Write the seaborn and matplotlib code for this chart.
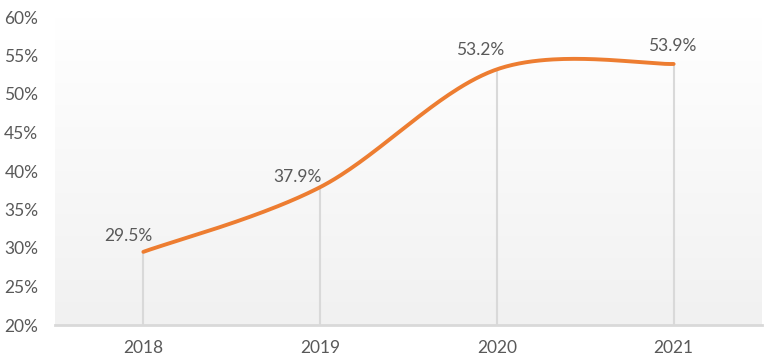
import numpy as np
import pandas as pd
import seaborn as sns
import matplotlib.pyplot as plt

years = ["2018", "2019", "2020", "2021"]
rates = [29.5, 37.9, 53.2, 53.9]
labels = ["29.5%", "37.9%", "53.2%", "53.9%"]
y_ticks = [20, 25, 30, 35, 40, 45, 50, 55, 60]


# Excel-style smoothed line (Catmull-Rom bezier between the data points)
def smooth_curve(xs, ys, n=60):
    xs = np.asarray(xs, float)
    ys = np.asarray(ys, float)
    px = np.concatenate([[xs[0]], xs, [xs[-1]]])
    py = np.concatenate([[ys[0]], ys, [ys[-1]]])
    out_x, out_y = [], []
    for i in range(1, len(px) - 2):
        p0 = np.array([px[i], py[i]])
        p3 = np.array([px[i + 1], py[i + 1]])
        c1 = p0 + (np.array([px[i + 1], py[i + 1]]) - np.array([px[i - 1], py[i - 1]])) / 6
        c2 = p3 - (np.array([px[i + 2], py[i + 2]]) - np.array([px[i], py[i]])) / 6
        t = np.linspace(0, 1, n)[:, None]
        pts = (1 - t) ** 3 * p0 + 3 * (1 - t) ** 2 * t * c1 + 3 * (1 - t) * t ** 2 * c2 + t ** 3 * p3
        out_x.extend(pts[:, 0])
        out_y.extend(pts[:, 1])
    return np.array(out_x), np.array(out_y)


sns.set_style("white")
plt.rcParams["font.family"] = ["Lato", "DejaVu Sans"]

fig = plt.figure(figsize=(7.81, 3.61), dpi=100)
ax = fig.add_axes([55 / 781, 36 / 361, 707 / 781, 308 / 361])

xpos = np.arange(len(years))
ax.set_xlim(-0.5, len(years) - 0.5)
ax.set_ylim(20, 60)

# background gradient: white at top, light gray at bottom
grad = np.linspace(1.0, 0.945, 256)[:, None]
ax.imshow(np.dstack([grad, grad, grad]), extent=[-0.5, len(years) - 0.5, 20, 60],
          aspect="auto", zorder=0, origin="upper")

# drop lines
ax.vlines(xpos, 20, rates, colors="#d9d9d9", linewidth=1.5, zorder=1)

sx, sy = smooth_curve(xpos, rates)
curve = pd.DataFrame({"x": sx, "y": sy})
sns.lineplot(data=curve, x="x", y="y", sort=False, color="#ed7d31",
             linewidth=2.8, ax=ax, zorder=3)

offsets = [(-11, 11.5), (-16.5, 7), (-12, 13.7), (-1, 13)]
for x, r, lab, off in zip(xpos, rates, labels, offsets):
    ax.annotate(lab, (x, r), xytext=off, textcoords="offset points",
                ha="center", va="center", fontsize=12.5, color="#595959")

ax.set_xticks(xpos)
ax.set_xticklabels(years)
ax.set_yticks(y_ticks)
ax.set_yticklabels([f"{v}%" for v in y_ticks])
ax.tick_params(axis="both", length=0, labelsize=12.5, labelcolor="#595959")
ax.tick_params(axis="x", pad=11)
ax.tick_params(axis="y", pad=12)
ax.set_xlabel("")
ax.set_ylabel("")

for side in ["top", "right", "left"]:
    ax.spines[side].set_visible(False)
ax.spines["bottom"].set_color("#d9d9d9")
ax.spines["bottom"].set_linewidth(2)

fig.savefig("out.png", dpi=100)
plt.close(fig)
